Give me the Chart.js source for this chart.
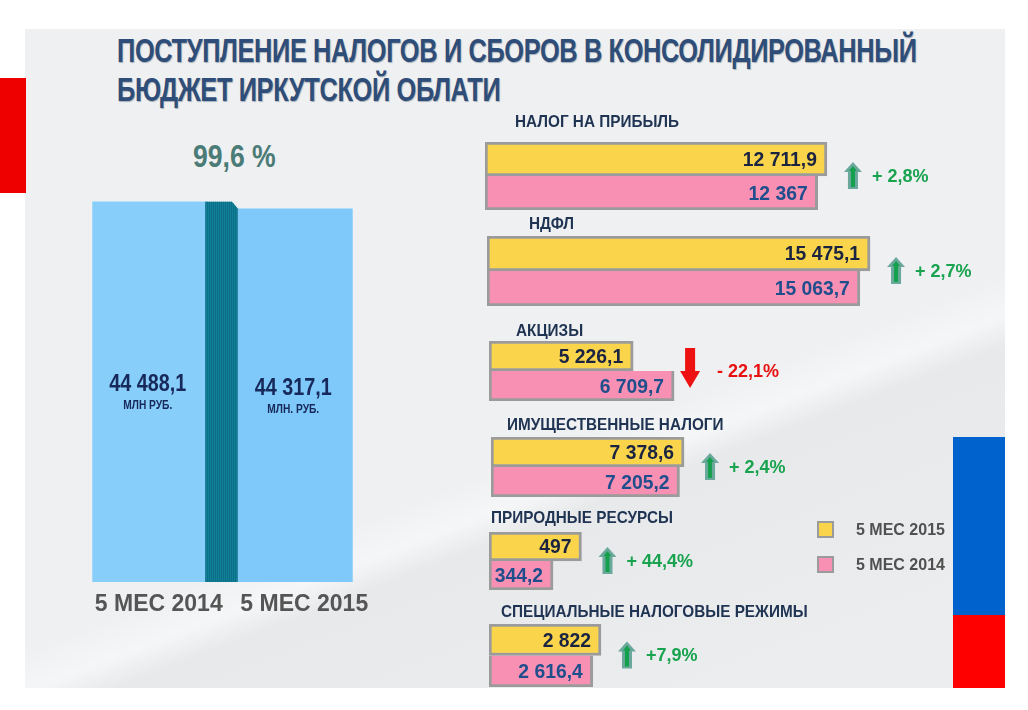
<!DOCTYPE html>
<html lang="ru">
<head>
<meta charset="UTF-8" />
<title>Поступление налогов и сборов</title>
<script src="https://cdn.jsdelivr.net/npm/chart.js@4.4.1/dist/chart.umd.min.js"></script>
<style>
  body { margin: 0; width: 1028px; height: 710px; background: #fff; position: relative; overflow: hidden;
         font-family: "Liberation Sans", Arial, sans-serif; }
  .panel { position: absolute; left: 25px; top: 29px; width: 980px; height: 659px;
           background: linear-gradient(159deg, #eef0f2 0%, #eef0f2 60%, #f5f6f7 64%, #e8e9eb 67%, #eceef0 100%); }
  .title { position: absolute; left: 117px; top: 31px; font-weight: bold; font-size: 33px; line-height: 39px;
           color: #2e4d78; text-shadow: 1px 1px 1px #a9b0b8; letter-spacing: -0.5px; white-space: nowrap;
           transform: scaleX(0.77); transform-origin: 0 0; }
  .share { position: absolute; left: 193px; top: 138px; font-weight: bold; font-size: 32px; color: #4b7b76;
           white-space: nowrap; transform: scaleX(0.83); transform-origin: 0 0; }
  .flag { position: absolute; }
  canvas { position: absolute; }
  .legend { position: absolute; left: 817px; top: 512px; }
  .legend div { height: 35px; display: flex; align-items: center; font-weight: bold; font-size: 16px; color: #505050; }
  .legend span.box { width: 13px; height: 13px; border: 2px solid #9b9b9b; margin-right: 22px; }
</style>
</head>
<body>
<div class="panel"></div>
<div class="flag" style="left:0;top:78px;width:26px;height:115px;background:#ee0000"></div>
<div class="flag" style="left:953px;top:437px;width:52px;height:178px;background:#0062cc"></div>
<div class="flag" style="left:953px;top:615px;width:52px;height:73px;background:#ff0000"></div>
<div class="title">ПОСТУПЛЕНИЕ НАЛОГОВ И СБОРОВ В КОНСОЛИДИРОВАННЫЙ<br>БЮДЖЕТ ИРКУТСКОЙ ОБЛАТИ</div>
<div class="share" id="share"></div>
<canvas id="totalChart" width="340" height="450" style="left:60px;top:180px"></canvas>
<div id="groups"></div>
<div class="legend" id="legend"></div>
<script>
// totals, left chart
var totalLabels = ["5 МЕС 2014", "5 МЕС 2015"];
var totalValues = [44488.1, 44317.1];
var totalUnits = ["МЛН РУБ.", "МЛН. РУБ."];
var totalShare = "99,6 %";

// taxes, right charts
var taxNames = ["НАЛОГ НА ПРИБЫЛЬ", "НДФЛ", "АКЦИЗЫ", "ИМУЩЕСТВЕННЫЕ НАЛОГИ", "ПРИРОДНЫЕ РЕСУРСЫ", "СПЕЦИАЛЬНЫЕ НАЛОГОВЫЕ РЕЖИМЫ"];
var seriesNames = ["5 МЕС 2015", "5 МЕС 2014"];
var values2015 = [12711.9, 15475.1, 5226.1, 7378.6, 497, 2822];
var values2014 = [12367, 15063.7, 6709.7, 7205.2, 344.2, 2616.4];
var changeLabels = ["+ 2,8%", "+ 2,7%", "- 22,1%", "+ 2,4%", "+ 44,4%", "+7,9%"];

// where each small chart sits (the original slide is not drawn to one scale)
var groupLayout = [
  { left: 485, barTop: 142, barH: 68, xMax: 14870, titleDx: 30, titleGap: 15 },
  { left: 487, barTop: 236, barH: 70, xMax: 16160, titleDx: 42, titleGap: 7 },
  { left: 489, barTop: 341, barH: 60, xMax: 14500, titleDx: 27, titleGap: 5 },
  { left: 491, barTop: 437, barH: 60, xMax: 15290, titleDx: 16, titleGap: 7 },
  { left: 489, barTop: 532, barH: 58, xMax: 2150, titleDx: 2, titleGap: 9 },
  { left: 489, barTop: 624, barH: 63, xMax: 10080, titleDx: 12, titleGap: 7 }
];

var FONT = '"Liberation Sans", Arial, sans-serif';
var AXIS_MIN = 35200;

function fmt(v) {
  var p = String(v).split(".");
  return p[0].replace(/\B(?=(\d{3})+(?!\d))/g, " ") + (p[1] ? "," + p[1] : "");
}

// squeezed text, the slide uses a narrow font
function narrowText(ctx, text, x, y, sx) {
  ctx.save();
  ctx.translate(x, y);
  ctx.scale(sx, 1);
  ctx.fillText(text, 0, 0);
  ctx.restore();
}

document.getElementById("share").textContent = totalShare;

// legend
var legendColors = ["#fad54b", "#f890b4"];
document.getElementById("legend").innerHTML = seriesNames.map(function (n, i) {
  return '<div><span class="box" style="background:' + legendColors[i] + '"></span>' + n + "</div>";
}).join("");

// left chart: the teal strip and the labels inside the bars
var totalDecor = {
  id: "totalDecor",
  afterDatasetsDraw: function (chart) {
    var ctx = chart.ctx;
    var bars = chart.getDatasetMeta(0).data;
    var b0 = bars[0], b1 = bars[1];
    var x1 = b0.x + b0.width / 2 - 2, x2 = b1.x - b1.width / 2;
    var top = b0.y, base = chart.chartArea.bottom;
    ctx.save();
    ctx.beginPath();
    ctx.moveTo(x1, base);
    ctx.lineTo(x1, top);
    ctx.lineTo(x2 - 6, top);
    ctx.lineTo(x2, b1.y);
    ctx.lineTo(x2, base);
    ctx.closePath();
    ctx.clip();
    ctx.fillStyle = "#1386a0";
    ctx.fillRect(x1, top, x2 - x1, base - top);
    ctx.fillStyle = "#0b6a80";
    for (var x = x1; x < x2; x += 2) ctx.fillRect(x, top, 1, base - top);
    ctx.restore();

    ctx.save();
    ctx.textAlign = "center";
    ctx.textBaseline = "middle";
    ctx.fillStyle = "#17285a";
    bars.forEach(function (b, i) {
      var mid = (b.y + base) / 2;
      ctx.font = "bold 23px " + FONT;
      narrowText(ctx, fmt(totalValues[i]), b.x - 2, mid - 7, 0.86);
      ctx.font = "bold 12px " + FONT;
      narrowText(ctx, totalUnits[i], b.x - 2, mid + 14, 0.85);
    });
    ctx.restore();
  }
};

new Chart(document.getElementById("totalChart"), {
  type: "bar",
  data: {
    labels: totalLabels,
    datasets: [{
      data: totalValues,
      base: AXIS_MIN,
      backgroundColor: ["#88cefa", "#7ec9f9"],
      categoryPercentage: 0.79,
      barPercentage: 1
    }]
  },
  options: {
    responsive: false,
    animation: false,
    layout: { padding: { top: 21, left: 17, right: 32, bottom: 0 } },
    scales: {
      y: { display: false, min: AXIS_MIN, max: 44500 },
      x: {
        grid: { display: false, drawTicks: false },
        border: { display: false },
        ticks: { color: "#555", font: { family: FONT, size: 23, weight: "bold" }, padding: 9, labelOffset: 9,
                 maxRotation: 0, minRotation: 0, autoSkip: false },
        afterFit: function (s) { s.height = 48; }
      }
    },
    plugins: { legend: { display: false }, tooltip: { enabled: false } }
  },
  plugins: [totalDecor]
});

// right side: one small horizontal chart per tax
function drawArrow(ctx, x, y, up) {
  ctx.save();
  if (up) {
    ctx.fillStyle = "#6aa89b";
    ctx.beginPath();
    ctx.moveTo(x, y - 14);
    ctx.lineTo(x + 9, y - 4);
    ctx.lineTo(x + 5, y - 4);
    ctx.lineTo(x + 5, y + 13);
    ctx.lineTo(x - 5, y + 13);
    ctx.lineTo(x - 5, y - 4);
    ctx.lineTo(x - 9, y - 4);
    ctx.closePath();
    ctx.fill();
    ctx.fillStyle = "#14a04c";
    ctx.beginPath();
    ctx.moveTo(x, y - 10);
    ctx.lineTo(x + 4, y - 5);
    ctx.lineTo(x + 2, y - 5);
    ctx.lineTo(x + 2, y + 11);
    ctx.lineTo(x - 2, y + 11);
    ctx.lineTo(x - 2, y - 5);
    ctx.lineTo(x - 4, y - 5);
    ctx.closePath();
    ctx.fill();
  } else {
    ctx.fillStyle = "#ee1111";
    ctx.beginPath();
    ctx.moveTo(x - 5, y - 27);
    ctx.lineTo(x + 5, y - 27);
    ctx.lineTo(x + 5, y - 4);
    ctx.lineTo(x + 10, y - 4);
    ctx.lineTo(x, y + 13);
    ctx.lineTo(x - 10, y - 4);
    ctx.lineTo(x - 5, y - 4);
    ctx.closePath();
    ctx.fill();
  }
  ctx.restore();
}

var groupDecor = {
  id: "groupDecor",
  afterDatasetsDraw: function (chart) {
    var i = chart.options.groupIndex;
    var L = groupLayout[i];
    var ctx = chart.ctx;
    var area = chart.chartArea;
    var b15 = chart.getDatasetMeta(0).data[0];
    var b14 = chart.getDatasetMeta(1).data[0];
    ctx.save();
    ctx.textBaseline = "alphabetic";
    ctx.textAlign = "left";
    ctx.fillStyle = "#1f3352";
    ctx.font = "bold 17px " + FONT;
    narrowText(ctx, taxNames[i], area.left + L.titleDx, area.top - L.titleGap, 0.9);

    ctx.textBaseline = "middle";
    ctx.textAlign = "right";
    ctx.font = "bold 21px " + FONT;
    ctx.fillStyle = "#1a2440";
    narrowText(ctx, fmt(values2015[i]), b15.x - 10, b15.y + 1, 0.92);
    ctx.fillStyle = "#1f4e8c";
    narrowText(ctx, fmt(values2014[i]), b14.x - 10, b14.y + 1, 0.92);

    var up = values2015[i] >= values2014[i];
    var ax = Math.max(b15.x, b14.x) + (up ? 26 : 16);
    var ay = (b15.y + b14.y) / 2;
    drawArrow(ctx, ax, up ? ay : ay + 4, up);
    ctx.textAlign = "left";
    ctx.font = "bold 18px " + FONT;
    ctx.fillStyle = up ? "#19a34f" : "#e81010";
    ctx.fillText(changeLabels[i], ax + (up ? 19 : 27), ay + 1);
    ctx.restore();
  }
};

var holder = document.getElementById("groups");
taxNames.forEach(function (name, i) {
  var L = groupLayout[i];
  var cv = document.createElement("canvas");
  var w = 510, padTop = 28;
  cv.width = w;
  cv.height = padTop + L.barH + 2;
  cv.style.left = L.left + "px";
  cv.style.top = (L.barTop - padTop) + "px";
  holder.appendChild(cv);
  new Chart(cv, {
    type: "bar",
    data: {
      labels: [name],
      datasets: [
        { label: seriesNames[0], data: [values2015[i]], backgroundColor: "#fad54b", borderColor: "#9b9b9b",
          borderWidth: 3, borderSkipped: false },
        { label: seriesNames[1], data: [values2014[i]], backgroundColor: "#f890b4", borderColor: "#9b9b9b",
          borderWidth: { top: 0, left: 3, right: 3, bottom: 3 }, borderSkipped: false }
      ]
    },
    options: {
      groupIndex: i,
      indexAxis: "y",
      responsive: false,
      animation: false,
      layout: { padding: { top: padTop, bottom: 2, left: 0, right: w - 400 } },
      datasets: { bar: { categoryPercentage: 1, barPercentage: 1 } },
      scales: { x: { display: false, min: 0, max: L.xMax }, y: { display: false } },
      plugins: { legend: { display: false }, tooltip: { enabled: false } }
    },
    plugins: [groupDecor]
  });
});
</script>
</body>
</html>
